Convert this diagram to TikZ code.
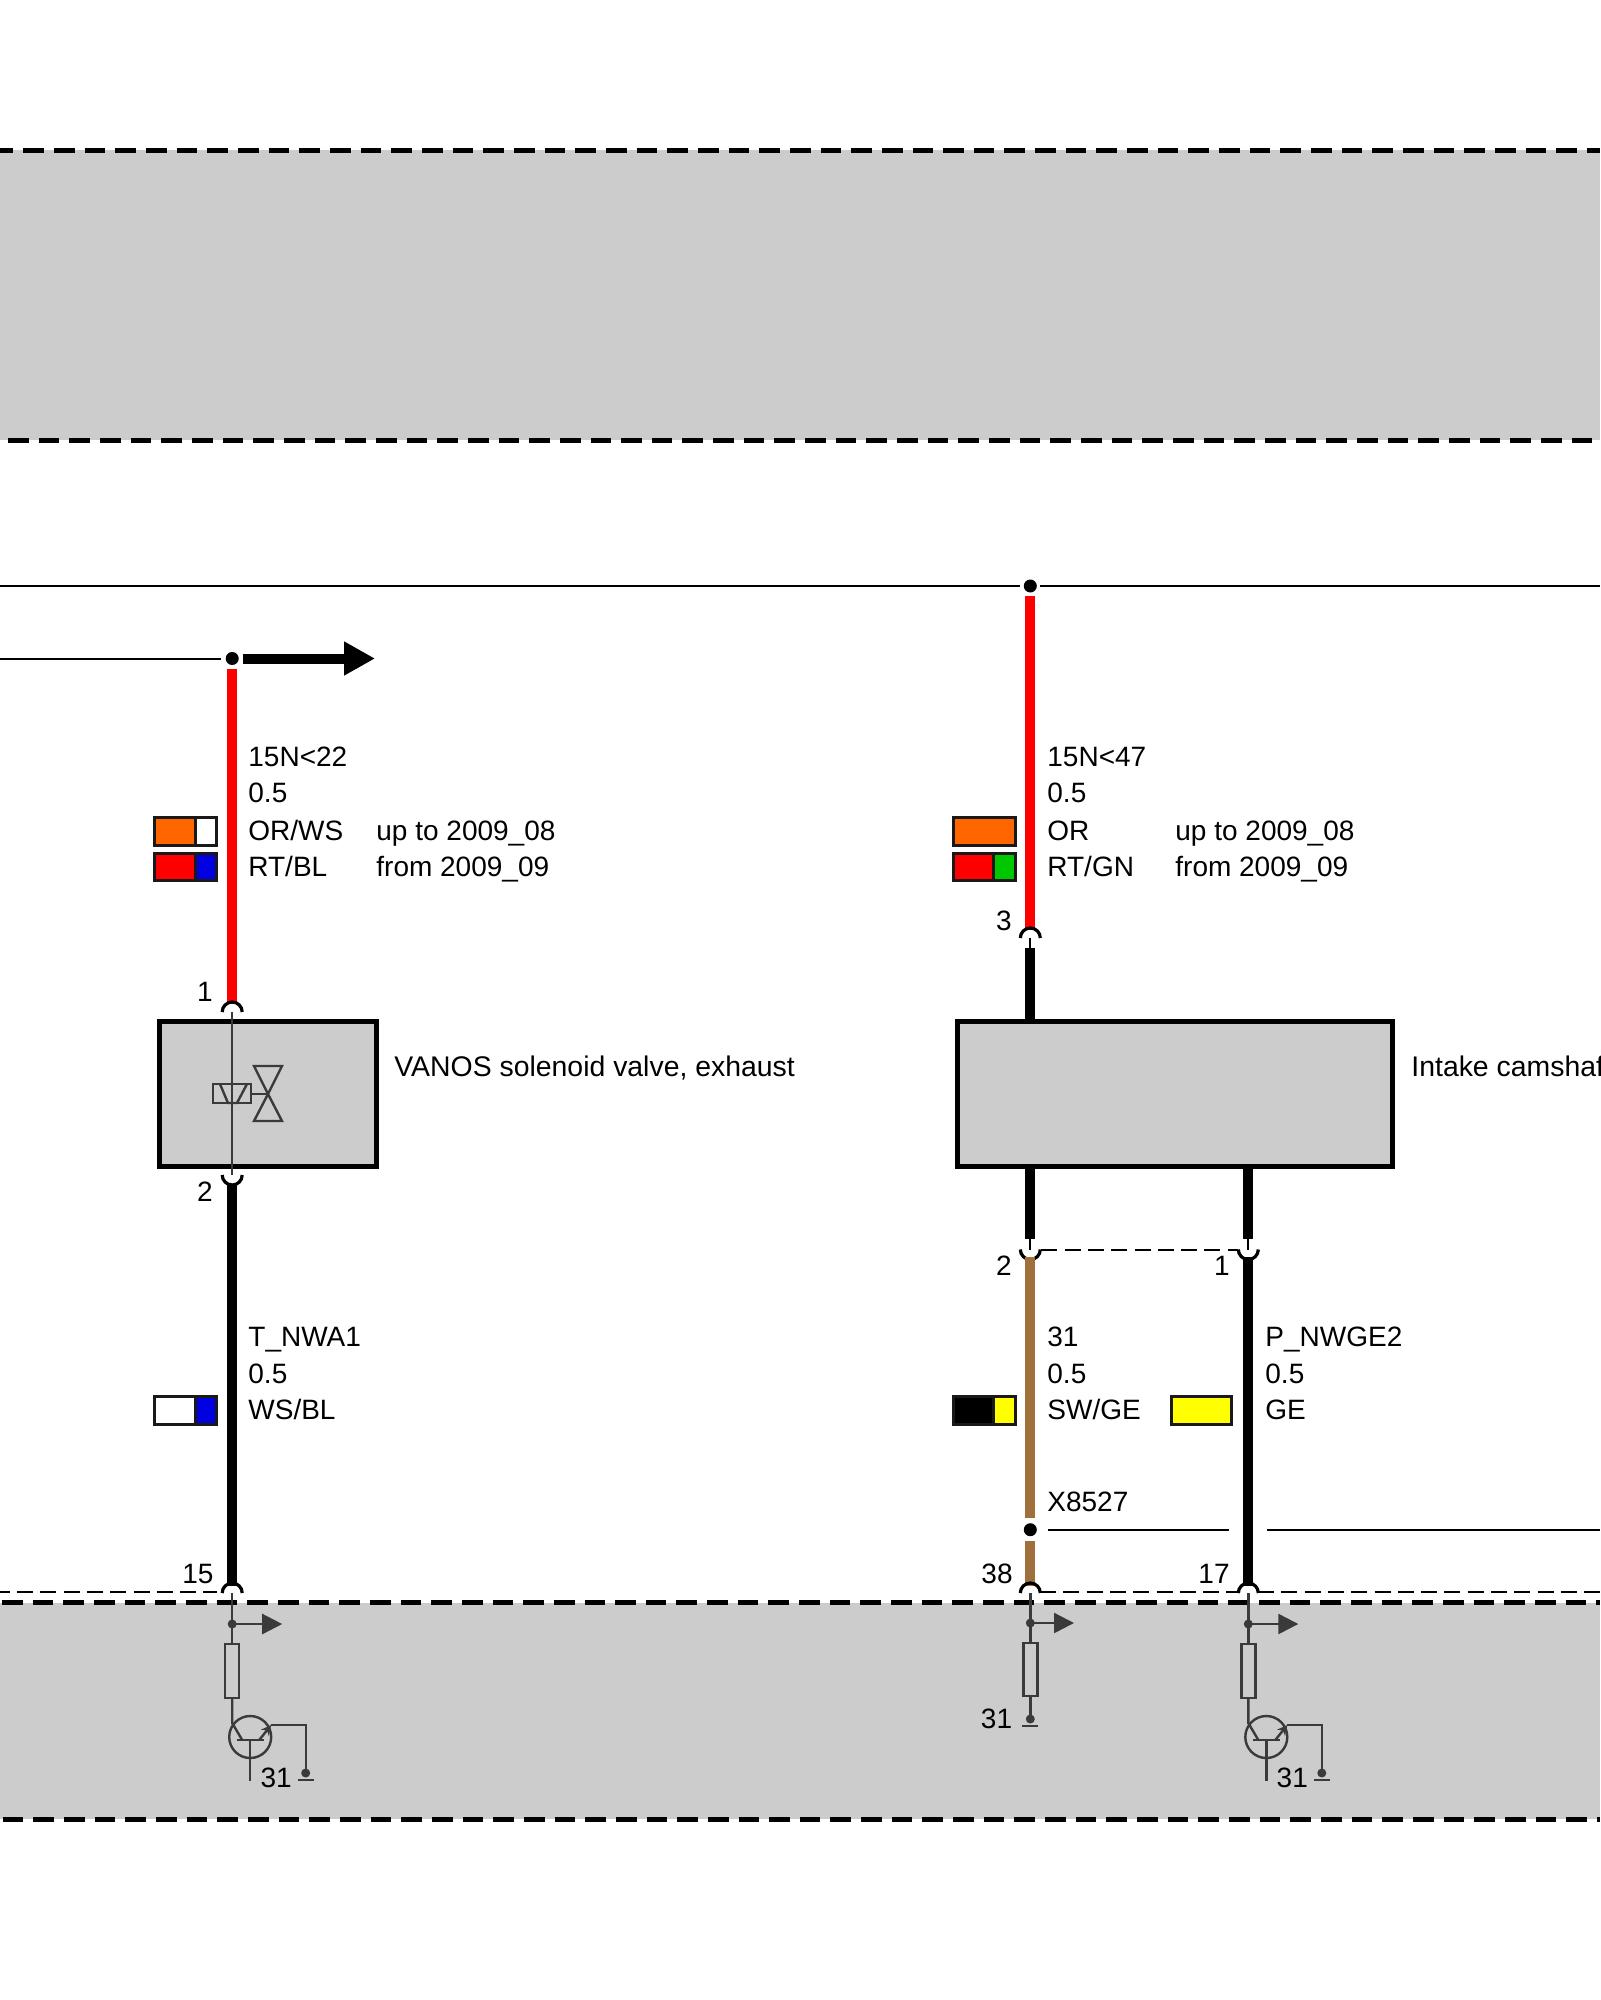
\documentclass[tikz,border=0pt]{standalone}
\usepackage{fontspec}
\setmainfont{Liberation Sans}
\usetikzlibrary{arrows.meta}
\definecolor{bandgray}{HTML}{CCCCCC}
\definecolor{symb}{HTML}{3A3A3A}
\definecolor{wred}{HTML}{FF0000}
\definecolor{wbrown}{HTML}{A0703C}
\definecolor{worange}{HTML}{FF6600}
\definecolor{wblue}{HTML}{0000E0}
\definecolor{wgreen}{HTML}{00C800}
\definecolor{wyellow}{HTML}{FFFF00}
\tikzset{
  lbl/.style={inner sep=0pt,anchor=base west,font=\fontsize{14}{16}\selectfont,text=black},
  num/.style={inner sep=0pt,anchor=base,font=\fontsize{14}{16}\selectfont,text=black},
  wire/.style={line width=5pt,line cap=butt},
  thin wire/.style={line width=1pt},
  bandline/.style={line width=2.6pt,dash pattern=on 10.33pt off 5pt},
  shield/.style={line width=1pt,dash pattern=on 8pt off 3.65pt},
  conn/.style={line width=1.6pt},
  sym/.style={line width=1.2pt,draw=symb},
  comp/.style={draw=black,line width=2.5pt,fill=bandgray},
  swatchline/.style={draw=black!90,line width=1.5pt},
  dot/.style={circle,fill=black,inner sep=0pt,minimum size=6.5pt},
  sdot/.style={circle,fill=symb,inner sep=0pt,minimum size=4.5pt},
  bigarrow/.style={line width=5pt,-{Triangle[length=15.5pt,width=16pt]}},
  smallarrow/.style={sym,-{Triangle[length=10pt,width=10pt]}},
}
\newcommand{\arcup}[1]{\draw[conn] (#1) ++(-10,0) arc[start angle=180,end angle=0,radius=5pt];}
\newcommand{\arcdown}[1]{\draw[conn] (#1) ++(-10,0) arc[start angle=180,end angle=360,radius=5pt];}
% #1 x left, #2 y top, #3 split, #4 x right, #5 y bottom, #6 col1, #7 col2
\newcommand{\swatchbox}[7]{%
  \fill[#6] (#1,#2) rectangle (#3,#5);
  \fill[#7] (#3,#2) rectangle (#4,#5);
  \draw[swatchline] (#1,#2) rectangle (#4,#5);
  \draw[swatchline] (#3,#2) -- (#3,#5);}
% Input stage with transistor: #1 = wire x, #2 = name prefix
\newcommand{\transstage}[2]{%
  \begin{scope}[shift={(#1,0)}]
    \coordinate (#2top) at (0,1593);
    \node[sdot] (#2dot) at (0,1624) {};
    \coordinate (#2tip) at (50,1624);
    \draw[smallarrow] (#2dot.center) -- (#2tip);
    \node[sym,draw,rectangle,inner sep=0pt,minimum width=7pt,minimum height=27pt] (#2res) at (0,1671) {};
    \draw[sym] (#2top) -- (#2res.north);
    \coordinate (#2col) at (0,1723);
    \draw[sym] (#2res.south) -- (#2col) -- (10,1740);
    \node[sym,draw,circle,inner sep=0pt,minimum size=21pt] (#2t) at (18,1737) {};
    \draw[sym] (5,1740) -- (32,1740);
    \draw[sym] (18,1740) -- (18,1781);
    \draw[sym,-{Stealth[length=5pt,width=5pt]}] (27,1740) -- (39,1725);
    \node[sdot] (#2gnd) at (73.5,1773) {};
    \draw[sym] (39,1725) -- (73.5,1725) -- (#2gnd.center);
    \draw[sym] (66,1780) -- (82,1780);
    \node[lbl] (#2lab) at (28,1787) {31};
  \end{scope}}
\begin{document}
\begin{tikzpicture}[x=0.5pt,y=-0.5pt]
\useasboundingbox (0,0) rectangle (1600,2000);
\fill[white] (0,0) rectangle (1600,2000);
% grey bands
\fill[bandgray] (0,150.5) rectangle (1600,440.5);
\fill[bandgray] (0,1603) rectangle (1600,1819);
\draw[bandline] (-7.3,150.5) -- (1600,150.5);
\draw[bandline] (-22.7,440.5) -- (1600,440.5);
\draw[bandline] (-28.7,1602.7) -- (1600,1602.7);
\draw[bandline] (-28,1819.5) -- (1600,1819.5);

% supply lines
\node[dot] (topdot) at (1030.3,586) {};
\node[dot] (ldot) at (232.2,658.5) {};
\coordinate (bl) at (0,586);
\coordinate (br) at (1600,586);
\coordinate (ll) at (0,658.5);
\draw[thin wire] (bl) -- ([xshift=-5pt]topdot.center);
\draw[thin wire] ([xshift=5pt]topdot.center) -- (br);
\draw[thin wire] (ll) -- ([xshift=-5.5pt]ldot.center);
\coordinate (atip) at (375,658.5);
\draw[bigarrow] ([xshift=5.5pt]ldot.center) -- (atip);

% component boxes
\node[comp,rectangle,inner sep=0pt,minimum width=108.5pt,minimum height=72.5pt] (valve) at (268,1094) {};
\node[comp,rectangle,inner sep=0pt,minimum width=217.5pt,minimum height=72.5pt] (sensor) at (1175,1094) {};

% left wire
\coordinate (a1) at (232.2,1012);
\coordinate (a2) at (232.2,1175);
\coordinate (a3) at (232.2,1593);
\draw[wire,wred] ([yshift=-5pt]ldot.center) -- (232.2,1004);
\arcup{a1}
\draw[sym] (a1) -- (a2);
\arcdown{a2}
\draw[wire] (232.2,1184) -- (232.2,1586);
\arcup{a3}

% valve symbol
\draw[sym] (213,1084) rectangle (251,1103);
\draw[sym] (220,1084) -- (228,1103) -- (237,1103) -- (247,1084);
\draw[sym] (251,1094) -- (268,1094);
\draw[sym,line join=miter] (268,1094) -- (254,1066) -- (282,1066) -- cycle;
\draw[sym,line join=miter] (268,1094) -- (254,1121) -- (282,1121) -- cycle;

% middle wire
\coordinate (b1) at (1030.3,938);
\coordinate (b2) at (1030.3,1249.5);
\coordinate (b3) at (1030.3,1593);
\draw[wire,wred] ([yshift=-5pt]topdot.center) -- (1030.3,930);
\arcup{b1}
\draw[line width=1pt] (b1) -- (1030.3,948);
\draw[wire] (1030.3,948) -- (1030.3,1019);
\draw[wire] (1030.3,1169) -- (1030.3,1239);
\draw[line width=1pt] (1030.3,1239) -- (b2);
\arcdown{b2}
\node[dot] (sdot1) at (1030.3,1529.7) {};
\draw[wire,wbrown] (1030.3,1257) -- (1030.3,1518);
\draw[wire,wbrown] (1030.3,1541) -- (1030.3,1586);
\arcup{b3}

% right wire
\coordinate (c2) at (1248.3,1249.5);
\coordinate (c3) at (1248.3,1593);
\draw[wire] (1248.3,1169) -- (1248.3,1239);
\draw[line width=1pt] (1248.3,1239) -- (c2);
\arcdown{c2}
\draw[wire] (1248.3,1257) -- (1248.3,1586);
\arcup{c3}

% shield / screen lines
\draw[shield] ([xshift=5.5pt]b2) -- ([xshift=-5pt]c2);
\draw[thin wire] ([xshift=8.85pt]sdot1.center) -- (1229,1529.7);
\coordinate (sr) at (1600,1529.7);
\draw[thin wire] (1267,1529.7) -- (sr);
\draw[shield] (-6.3,1592) -- (217,1592);
\draw[shield] (1040,1592) -- (1238,1592);
\draw[shield] (1258,1592) -- (1600,1592);

% lower stages
\transstage{232.2}{sa}
\transstage{1248.3}{sc}
\coordinate (mtop) at (1030.3,1593);
\node[sdot] (mdot) at (1030.3,1623) {};
\coordinate (mtip) at (1074,1623);
\draw[smallarrow] (mdot.center) -- (mtip);
\node[sym,draw,rectangle,inner sep=0pt,minimum width=7pt,minimum height=26.5pt] (mres) at (1030.3,1669.5) {};
\node[sdot] (mgnd) at (1030.3,1719) {};
\draw[sym] (mtop) -- (mres.north);
\draw[sym] (mres.south) -- (mgnd.center);
\draw[sym] (1022,1726) -- (1038,1726);
\node[lbl,anchor=base east] (m31) at (1012.5,1728) {31};

% swatches
\swatchbox{154}{817}{195}{216}{845}{worange}{white}
\swatchbox{154}{853}{195}{216}{880}{wred}{wblue}
\swatchbox{154}{1396.5}{195}{216}{1424.5}{white}{wblue}
\swatchbox{953}{817}{1015}{1015}{845}{worange}{worange}
\swatchbox{953}{853}{993}{1015}{880}{wred}{wgreen}
\swatchbox{953}{1396.5}{993}{1015}{1424.5}{black}{wyellow}
\swatchbox{1171}{1396.5}{1231}{1231}{1424.5}{wyellow}{wyellow}

% labels left
\node[lbl] (t1) at (248,766) {15N<22};
\node[lbl] (t2) at (248,802) {0.5};
\node[lbl] (t3) at (248,840) {OR/WS};
\node[lbl] (t4) at (248,876) {RT/BL};
\node[lbl] (t5) at (376,840) {up to 2009\_08};
\node[lbl] (t6) at (376,876) {from 2009\_09};
\node[lbl] (t7) at (248,1346) {T\_NWA1};
\node[lbl] (t8) at (248,1383) {0.5};
\node[lbl] (t9) at (248,1419) {WS/BL};
\node[lbl,font=\fontsize{14.2}{16}\selectfont] (t10) at (394,1076) {VANOS solenoid valve, exhaust};
% labels middle
\node[lbl] (u1) at (1047,766) {15N<47};
\node[lbl] (u2) at (1047,802) {0.5};
\node[lbl] (u3) at (1047,840) {OR};
\node[lbl] (u4) at (1047,876) {RT/GN};
\node[lbl] (u5) at (1175,840) {up to 2009\_08};
\node[lbl] (u6) at (1175,876) {from 2009\_09};
\node[lbl] (u7) at (1047,1346) {31};
\node[lbl] (u8) at (1047,1383) {0.5};
\node[lbl] (u9) at (1047,1419) {SW/GE};
\node[lbl] (u10) at (1047,1511) {X8527};
\node[lbl] (v1) at (1265,1346) {P\_NWGE2};
\node[lbl] (v2) at (1265,1383) {0.5};
\node[lbl] (v3) at (1265,1419) {GE};
\begin{scope}
\clip (0,0) rectangle (1600,2000);
\node[lbl,font=\fontsize{14.2}{16}\selectfont] (v4) at (1411,1076) {Intake camshaft};
\end{scope}
% pin numbers
\node[num] (p1) at (205,1001) {1};
\node[num] (p2) at (205,1201) {2};
\node[num] (p3) at (1004,930) {3};
\node[num] (p4) at (1004,1275) {2};
\node[num] (p5) at (1222,1275) {1};
\node[num] (p6) at (198,1583) {15};
\node[num] (p7) at (997,1583) {38};
\node[num] (p8) at (1214,1583) {17};
\end{tikzpicture}
\end{document}
